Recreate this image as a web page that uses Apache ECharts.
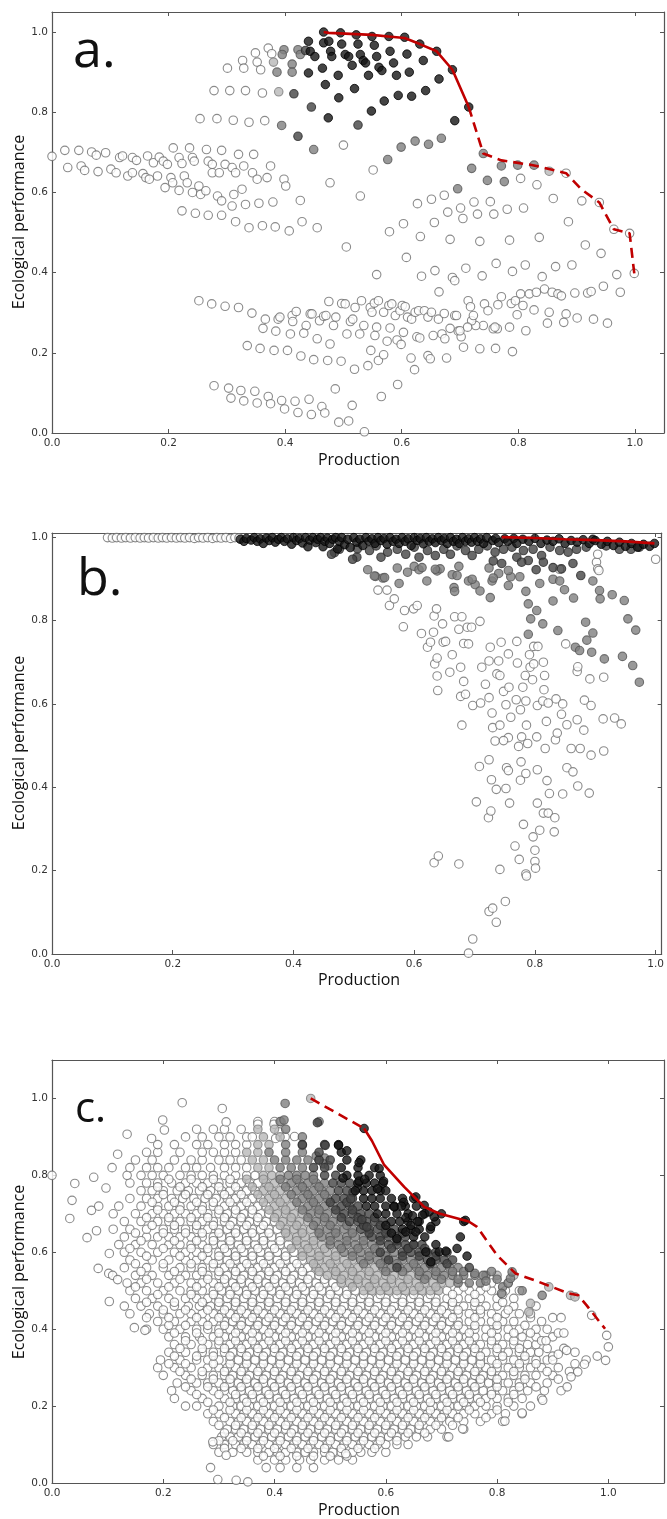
<!DOCTYPE html>
<html><head><meta charset="utf-8">
<script src="https://cdn.jsdelivr.net/npm/echarts@6/dist/echarts.min.js"></script>
<style>html,body{margin:0;padding:0;background:#fff}#c{width:667px;height:1519px}</style>
</head><body><div id="c"></div>
<script>
// ---------- tick labels ----------
const tickValues = [0, 0.2, 0.4, 0.6, 0.8, 1.0];
const tickLabels = ['0.0', '0.2', '0.4', '0.6', '0.8', '1.0'];
const panelLetters = ['a.', 'b.', 'c.'];
const xTitle = 'Production';
const yTitle = 'Ecological performance';

// ---------- panel a ----------
const aOpen = [
[0.0,0.69],[0.022,0.705],[0.046,0.705],[0.068,0.701],[0.076,0.693],[0.092,0.699],[0.116,0.687],[0.121,0.691],[0.138,0.687],[0.145,0.68],[0.164,0.691],[0.174,0.674],[0.184,0.688],[0.191,0.678],[0.198,0.67],[0.208,0.711],[0.218,0.687],[0.223,0.672],[0.236,0.711],[0.241,0.687],[0.244,0.678],[0.265,0.707],[0.268,0.678],[0.275,0.67],[0.291,0.705],[0.297,0.67],[0.32,0.695],[0.346,0.695],[0.375,0.666],
[0.027,0.662],[0.05,0.666],[0.056,0.655],[0.079,0.652],[0.101,0.658],[0.11,0.649],[0.13,0.641],[0.138,0.649],[0.156,0.647],[0.161,0.637],[0.167,0.633],[0.181,0.641],[0.194,0.612],[0.204,0.637],[0.207,0.624],[0.218,0.605],[0.227,0.641],[0.232,0.624],[0.241,0.6],[0.252,0.616],[0.255,0.595],[0.264,0.604],[0.275,0.649],[0.284,0.591],[0.287,0.649],[0.291,0.579],[0.309,0.662],[0.312,0.595],[0.315,0.649],[0.326,0.608],[0.329,0.666],[0.344,0.649],[0.352,0.633],[0.369,0.637],[0.398,0.633],[0.401,0.616],
[0.223,0.554],[0.246,0.548],[0.268,0.543],[0.291,0.543],[0.315,0.527],[0.309,0.566],[0.332,0.57],[0.355,0.573],[0.379,0.576],[0.338,0.512],[0.361,0.517],[0.383,0.514],[0.407,0.504],[0.426,0.58],[0.429,0.527],[0.455,0.512],[0.477,0.624],
[0.278,0.854],[0.305,0.854],[0.332,0.854],[0.361,0.848],[0.254,0.784],[0.283,0.784],[0.311,0.78],[0.338,0.775],[0.365,0.779],
[0.301,0.91],[0.327,0.929],[0.329,0.91],[0.349,0.948],[0.352,0.925],[0.358,0.906],[0.371,0.96],[0.377,0.946],
[0.5,0.718],[0.551,0.656],[0.529,0.591],[0.804,0.635],[0.832,0.619],[0.86,0.585],[0.909,0.579],[0.939,0.575],[0.964,0.508],[0.991,0.498],[0.999,0.398],[0.673,0.593],[0.651,0.583],[0.627,0.572],[0.724,0.576],[0.752,0.577],[0.679,0.551],[0.701,0.561],[0.705,0.535],[0.73,0.546],[0.758,0.546],[0.781,0.558],[0.809,0.561],[0.579,0.502],[0.603,0.522],[0.656,0.525],[0.632,0.49],[0.683,0.483],[0.734,0.478],[0.785,0.481],[0.836,0.488],[0.886,0.527],[0.915,0.469],[0.942,0.448],[0.505,0.464],[0.608,0.438],[0.557,0.395],[0.634,0.391],[0.657,0.405],[0.687,0.388],[0.691,0.38],[0.71,0.411],[0.738,0.392],[0.762,0.423],[0.79,0.403],[0.812,0.419],[0.841,0.39],[0.864,0.415],[0.892,0.419],[0.969,0.395],[0.946,0.366],[0.975,0.351],[0.664,0.352],[0.897,0.349],[0.919,0.349],[0.925,0.353],[0.882,0.648],
[0.714,0.33],[0.718,0.315],[0.742,0.322],[0.748,0.305],[0.771,0.34],[0.765,0.32],[0.788,0.323],[0.795,0.33],[0.804,0.347],[0.808,0.318],[0.819,0.347],[0.831,0.351],[0.845,0.359],[0.858,0.351],[0.868,0.347],[0.874,0.342],[0.798,0.295],[0.827,0.307],[0.853,0.301],[0.882,0.297],[0.901,0.287],[0.929,0.284],[0.953,0.274],[0.85,0.274],[0.878,0.276],[0.813,0.255],[0.785,0.264],[0.764,0.26],[0.757,0.26],[0.74,0.268],[0.727,0.268],[0.72,0.28],[0.706,0.214],[0.734,0.21],[0.761,0.211],[0.79,0.203],[0.723,0.293],[0.697,0.254],[0.702,0.24],[0.691,0.293],
[0.252,0.33],[0.274,0.322],[0.297,0.316],[0.32,0.313],[0.343,0.299],[0.366,0.284],[0.388,0.284],[0.391,0.289],[0.412,0.293],[0.419,0.303],[0.413,0.278],[0.436,0.268],[0.443,0.297],[0.446,0.297],[0.459,0.28],[0.466,0.291],[0.47,0.293],[0.475,0.328],[0.483,0.268],[0.487,0.289],[0.497,0.323],[0.503,0.322],[0.512,0.278],[0.516,0.284],[0.52,0.313],[0.531,0.33],[0.535,0.268],[0.546,0.313],[0.549,0.301],[0.553,0.324],[0.56,0.33],[0.557,0.264],[0.569,0.301],[0.578,0.318],[0.583,0.322],[0.58,0.262],[0.589,0.293],[0.597,0.305],[0.601,0.318],[0.606,0.315],[0.61,0.289],[0.617,0.284],[0.623,0.301],[0.629,0.305],[0.639,0.305],[0.645,0.289],[0.651,0.301],[0.663,0.284],[0.673,0.298],[0.694,0.293],[0.76,0.264],
[0.362,0.261],[0.384,0.254],[0.409,0.247],[0.432,0.249],[0.455,0.235],[0.477,0.222],[0.506,0.247],[0.528,0.247],[0.554,0.243],[0.575,0.229],[0.592,0.232],[0.599,0.221],[0.603,0.251],[0.626,0.24],[0.631,0.237],[0.654,0.243],[0.669,0.247],[0.674,0.235],[0.683,0.261],[0.7,0.255],[0.713,0.264],
[0.335,0.218],[0.357,0.211],[0.381,0.206],[0.404,0.206],[0.427,0.192],[0.449,0.183],[0.473,0.181],[0.496,0.179],[0.519,0.159],[0.542,0.168],[0.56,0.181],[0.569,0.195],[0.547,0.206],[0.616,0.187],[0.622,0.158],[0.645,0.193],[0.649,0.185],[0.677,0.187],
[0.278,0.118],[0.303,0.112],[0.307,0.087],[0.324,0.106],[0.329,0.08],[0.348,0.104],[0.352,0.075],[0.371,0.091],[0.375,0.073],[0.394,0.081],[0.399,0.06],[0.417,0.079],[0.422,0.051],[0.441,0.084],[0.445,0.046],[0.463,0.066],[0.468,0.05],[0.486,0.11],[0.492,0.027],[0.509,0.03],[0.515,0.069],[0.536,0.003],[0.565,0.091],[0.593,0.121]
];
const aLight = [[0.38,0.925],[0.389,0.851],[0.853,0.653]];
const aGray = [[0.386,0.9],[0.398,0.956],[0.395,0.944],[0.412,0.92],[0.412,0.9],[0.422,0.956],[0.426,0.944],[0.394,0.767],[0.449,0.707],[0.599,0.713],[0.623,0.728],[0.646,0.72],[0.668,0.735],[0.576,0.682],[0.74,0.697],[0.72,0.66],[0.747,0.63],[0.771,0.666],[0.776,0.627],[0.799,0.668],[0.827,0.668],[0.696,0.609]];
const aDark = [[0.415,0.846],[0.422,0.74],[0.445,0.813],[0.525,0.768],[0.435,0.954]];
const aBlack = [[0.44,0.977],[0.443,0.952],[0.451,0.939],[0.44,0.898],[0.466,0.973],[0.466,1.0],[0.464,0.91],[0.469,0.869],[0.478,0.952],[0.48,0.939],[0.491,0.892],[0.492,0.836],[0.495,0.998],[0.522,0.993],[0.549,0.989],[0.578,0.989],[0.605,0.987],[0.631,0.97],[0.66,0.952],[0.687,0.906],[0.715,0.813],[0.475,0.977],[0.497,0.97],[0.525,0.97],[0.553,0.967],[0.503,0.944],[0.509,0.939],[0.529,0.944],[0.534,0.929],[0.557,0.939],[0.58,0.952],[0.609,0.945],[0.637,0.929],[0.515,0.917],[0.538,0.923],[0.561,0.912],[0.566,0.904],[0.586,0.923],[0.543,0.892],[0.591,0.892],[0.613,0.9],[0.664,0.883],[0.519,0.859],[0.57,0.828],[0.594,0.842],[0.617,0.84],[0.641,0.854],[0.548,0.803],[0.474,0.786],[0.691,0.779]];
const aFrontSolid = [[0.466,1.0],[0.475,0.998],[0.549,0.993],[0.577,0.989],[0.605,0.985],[0.631,0.97],[0.66,0.952],[0.687,0.906],[0.715,0.813]];
const aFrontDash = [[0.715,0.813],[0.74,0.697],[0.771,0.68],[0.825,0.668],[0.882,0.648],[0.908,0.608],[0.939,0.575],[0.964,0.508],[0.991,0.498],[0.999,0.398]];

// ---------- panel b ----------
const bOpenTop = [[0.092,0.999],[0.100,0.998],[0.107,0.999],[0.115,0.998],[0.122,0.999],[0.13,0.998],[0.138,0.999],[0.146,0.998],[0.153,0.999],[0.16,0.998],[0.168,0.999],[0.176,0.998],[0.183,0.999],[0.19,0.998],[0.198,0.999],[0.206,0.998],[0.213,0.999],[0.22,0.998],[0.228,0.999],[0.236,0.997],[0.243,0.999],[0.25,0.998],[0.258,0.999],[0.266,0.997],[0.273,0.999],[0.28,0.998],[0.288,0.999],[0.296,0.997],[0.303,0.999],[0.31,0.998]];
const bOpen = [
[0.582,0.785],[0.540,0.873],[0.555,0.873],[0.559,0.836],[0.567,0.852],[0.584,0.824],[0.599,0.828],[0.605,0.836],[0.612,0.769],[0.622,0.736],[0.627,0.748],[0.632,0.772],[0.633,0.811],[0.637,0.828],[0.647,0.792],[0.648,0.748],[0.652,0.750],[0.634,0.696],[0.638,0.710],[0.638,0.667],[0.639,0.632],[0.663,0.718],[0.659,0.676],[0.667,0.809],[0.674,0.779],[0.677,0.688],[0.679,0.809],[0.682,0.654],[0.677,0.618],[0.685,0.623],[0.679,0.549],[0.688,0.784],[0.682,0.745],[0.690,0.744],[0.695,0.784],[0.697,0.596],[0.709,0.798],[0.710,0.602],[0.712,0.688],[0.718,0.647],[0.724,0.615],[0.726,0.736],[0.724,0.703],[0.729,0.578],[0.730,0.543],[0.737,0.672],[0.742,0.668],[0.740,0.703],[0.742,0.549],[0.744,0.748],[0.748,0.630],[0.752,0.598],[0.756,0.720],[0.760,0.568],[0.756,0.519],[0.734,0.511],[0.748,0.512],[0.757,0.640],[0.770,0.750],[0.771,0.698],[0.769,0.610],[0.773,0.498],[0.776,0.586],[0.778,0.521],[0.784,0.668],[0.785,0.607],[0.786,0.549],[0.788,0.505],[0.780,0.640],[0.791,0.718],[0.792,0.688],[0.796,0.658],[0.798,0.696],[0.803,0.521],[0.804,0.596],[0.813,0.607],[0.814,0.700],[0.815,0.634],[0.816,0.668],[0.817,0.493],[0.819,0.558],[0.822,0.602],[0.798,0.738],[0.805,0.738],[0.835,0.612],[0.846,0.600],[0.834,0.514],[0.837,0.530],[0.844,0.575],[0.853,0.550],[0.851,0.744],[0.860,0.493],[0.853,0.447],[0.863,0.437],[0.870,0.562],[0.870,0.678],[0.871,0.689],[0.875,0.493],[0.881,0.537],[0.882,0.609],[0.891,0.660],[0.893,0.596],[0.893,0.477],[0.913,0.564],[0.914,0.487],[0.914,0.664],[0.932,0.566],[0.943,0.552],
[0.724,0.466],[0.708,0.450],[0.728,0.418],[0.736,0.395],[0.753,0.447],[0.756,0.440],[0.752,0.397],[0.777,0.461],[0.776,0.417],[0.785,0.433],[0.804,0.442],[0.758,0.362],[0.703,0.365],[0.723,0.327],[0.727,0.343],[0.781,0.311],[0.797,0.281],[0.808,0.297],[0.804,0.362],[0.820,0.416],[0.824,0.385],[0.814,0.338],[0.822,0.338],[0.833,0.327],[0.832,0.293],[0.846,0.384],[0.871,0.403],[0.890,0.386],[0.767,0.259],[0.774,0.227],[0.800,0.249],[0.800,0.222],[0.801,0.206],[0.785,0.192],[0.786,0.187],[0.742,0.203],[0.633,0.219],[0.640,0.235],[0.674,0.216],[0.751,0.126],[0.724,0.102],[0.730,0.110],[0.736,0.076],[0.697,0.036],[0.690,0.002],
[0.902,0.94],[0.904,0.924],[0.841,0.923],[1.0,0.947],[0.904,0.959],[0.906,0.92]
];
const bMid = [[0.523,0.922],[0.536,0.906],[0.548,0.902],[0.572,0.926],[0.575,0.889],[0.589,0.916],[0.600,0.930],[0.608,0.922],[0.621,0.895],[0.638,0.919],[0.643,0.924],[0.663,0.910],[0.666,0.879],[0.667,0.870],[0.674,0.930],[0.690,0.895],[0.701,0.886],[0.709,0.871],[0.724,0.926],[0.726,0.855],[0.729,0.895],[0.740,0.913],[0.756,0.884],[0.760,0.905],[0.775,0.905],[0.785,0.870],[0.789,0.840],[0.793,0.804],[0.803,0.824],[0.813,0.792],[0.789,0.767],[0.808,0.889],[0.830,0.899],[0.841,0.895],[0.838,0.776],[0.830,0.847],[0.849,0.874],[0.864,0.854],[0.867,0.736],[0.874,0.728],[0.884,0.796],[0.886,0.753],[0.894,0.724],[0.896,0.770],[0.896,0.895],[0.907,0.872],[0.908,0.852],[0.915,0.708],[0.928,0.862],[0.945,0.714],[0.948,0.848],[0.954,0.804],[0.962,0.692],[0.967,0.777],[0.973,0.652],[0.534,0.907],[0.551,0.903],[0.613,0.927],[0.635,0.923],[0.671,0.908],[0.696,0.899],[0.731,0.902],[0.756,0.920]];
const bDark = [[0.506,0.972],[0.505,0.952],[0.526,0.968],[0.545,0.952],[0.537,0.979],[0.556,0.964],[0.572,0.971],[0.586,0.959],[0.6,0.976],[0.608,0.952],[0.622,0.968],[0.635,0.956],[0.649,0.971],[0.66,0.959],[0.671,0.979],[0.685,0.968],[0.696,0.956],[0.707,0.971],[0.721,0.979],[0.734,0.964],[0.748,0.971],[0.762,0.976],[0.77,0.952],[0.781,0.968],[0.797,0.971],[0.811,0.956],[0.825,0.976],[0.841,0.968],[0.855,0.964],[0.869,0.971],[0.885,0.976],[0.918,0.979],[0.94,0.971],[0.959,0.971],[0.973,0.976],[0.731,0.943],[0.789,0.944],[0.863,0.937],[0.876,0.908],[0.802,0.922],[0.814,0.940],[0.830,0.927],[0.844,0.924],[0.778,0.940],[0.745,0.937],[0.468,0.963],[0.463,0.959],[0.498,0.947],[0.476,0.971]];
const bBlack = [[0.312,0.995],[0.318,0.99],[0.322,0.997],[0.33,0.993],[0.335,0.999],[0.34,0.99],[0.345,0.996],[0.35,0.985],[0.355,0.998],[0.36,0.992],[0.365,0.999],[0.37,0.988],[0.375,0.995],[0.38,0.999],[0.385,0.99],[0.39,0.996],[0.397,0.983],[0.40,0.999],[0.405,0.992],[0.41,0.997],[0.415,0.986],[0.42,0.999],[0.424,0.977],[0.427,0.993],[0.432,0.999],[0.437,0.987],[0.44,0.995],[0.445,0.999],[0.449,0.977],[0.452,0.99],[0.456,0.998],[0.46,0.985],[0.465,0.995],[0.47,0.999],[0.473,0.972],[0.476,0.99],[0.48,0.999],[0.485,0.982],[0.49,0.995],[0.494,0.975],[0.50,0.999],[0.505,0.988],[0.51,0.995],[0.515,0.98],[0.52,0.999],[0.525,0.99],[0.53,0.996],[0.535,0.985],[0.54,0.999],[0.545,0.992],[0.55,0.997],[0.555,0.983],[0.56,0.999],[0.565,0.99],[0.57,0.995],[0.575,0.985],[0.58,0.999],[0.585,0.99],[0.59,0.996],[0.595,0.98],[0.60,0.999],[0.605,0.992],[0.61,0.997],[0.615,0.984],[0.62,0.999],[0.625,0.99],[0.63,0.996],[0.635,0.987],[0.64,0.999],[0.645,0.992],[0.65,0.997],[0.655,0.985],[0.66,0.999],[0.665,0.99],[0.67,0.995],[0.675,0.985],[0.68,0.999],[0.685,0.99],[0.69,0.996],[0.695,0.988],[0.70,0.999],[0.705,0.99],[0.71,0.996],[0.715,0.985],[0.72,0.999],[0.73,0.992],[0.735,0.997],[0.74,0.987],[0.75,0.996],[0.755,0.99],[0.765,0.997],[0.77,0.985],[0.78,0.995],[0.79,0.99],[0.80,0.997],[0.81,0.985],[0.82,0.993],[0.83,0.99],[0.84,0.996],[0.85,0.985],[0.86,0.992],[0.87,0.988],[0.88,0.994],[0.89,0.985],[0.896,0.995],[0.90,0.992],[0.91,0.983],[0.92,0.99],[0.93,0.98],[0.94,0.988],[0.95,0.978],[0.96,0.985],[0.97,0.976],[0.98,0.983],[0.99,0.978],[0.998,0.985]];
const bFront = [[0.745,1.0],[0.80,0.998],[0.85,0.995],[0.90,0.993],[0.95,0.99],[0.998,0.985]];

// ---------- panel c (rows: [y, [x values]]) ----------
const cOpenRows = [
[0.04,[.385,.41,.44,.47]],
[0.06,[.37,.40,.42,.445,.465,.49,.515,.54]],
[0.08,[.30,.325,.35,.37,.39,.405,.42,.44,.455,.47,.49,.505,.52,.54,.555,.575,.60]],
[0.10,[.29,.31,.33,.345,.36,.375,.39,.405,.42,.435,.45,.465,.48,.495,.51,.525,.54,.555,.57,.585,.60,.62,.64]],
[0.12,[.305,.32,.335,.35,.365,.38,.395,.41,.425,.44,.455,.47,.485,.50,.515,.53,.545,.56,.575,.59,.605,.62,.635,.655,.675,.71]],
[0.14,[.315,.33,.345,.36,.375,.39,.405,.42,.435,.45,.465,.48,.495,.51,.525,.54,.555,.57,.585,.60,.615,.63,.645,.66,.68,.70,.74]],
[0.16,[.29,.32,.335,.35,.365,.38,.395,.41,.425,.44,.455,.47,.485,.50,.515,.53,.545,.56,.575,.59,.605,.62,.635,.65,.665,.68,.695,.715,.74,.77,.81]],
[0.18,[.28,.30,.33,.345,.36,.375,.39,.405,.42,.435,.45,.465,.48,.495,.51,.525,.54,.555,.57,.585,.60,.615,.63,.645,.66,.675,.69,.705,.72,.74,.76,.79,.815,.845]],
[0.20,[.24,.26,.30,.325,.34,.355,.37,.385,.40,.415,.43,.445,.46,.475,.49,.505,.52,.535,.55,.565,.58,.595,.61,.625,.64,.655,.67,.685,.70,.715,.73,.745,.76,.78,.80,.83,.86]],
[0.22,[.22,.27,.31,.33,.345,.36,.375,.39,.405,.42,.435,.45,.465,.48,.495,.51,.525,.54,.555,.57,.585,.60,.615,.63,.645,.66,.675,.69,.705,.72,.735,.75,.765,.78,.80,.82,.845,.88]],
[0.24,[.215,.25,.29,.31,.325,.34,.355,.37,.385,.40,.415,.43,.445,.46,.475,.49,.505,.52,.535,.55,.565,.58,.595,.61,.625,.64,.655,.67,.685,.70,.715,.73,.745,.76,.775,.79,.81,.83,.855,.885,.915]],
[0.26,[.225,.26,.28,.30,.32,.335,.35,.365,.38,.395,.41,.425,.44,.455,.47,.485,.50,.515,.53,.545,.56,.575,.59,.605,.62,.635,.65,.665,.68,.695,.71,.725,.74,.755,.77,.785,.80,.82,.84,.86,.89]],
[0.28,[.20,.24,.27,.29,.31,.325,.34,.355,.37,.385,.40,.415,.43,.445,.46,.475,.49,.505,.52,.535,.55,.565,.58,.595,.61,.625,.64,.655,.67,.685,.70,.715,.73,.745,.76,.775,.79,.81,.83,.85,.87,.90]],
[0.30,[.19,.22,.25,.28,.30,.315,.33,.345,.36,.375,.39,.405,.42,.435,.45,.465,.48,.495,.51,.525,.54,.555,.57,.585,.60,.615,.63,.645,.66,.675,.69,.705,.72,.735,.75,.765,.78,.80,.82,.84,.86,.88,.91]],
[0.32,[.195,.23,.26,.28,.30,.32,.335,.35,.365,.38,.395,.41,.425,.44,.455,.47,.485,.50,.515,.53,.545,.56,.575,.59,.605,.62,.635,.65,.665,.68,.695,.71,.725,.74,.755,.77,.79,.81,.83,.85,.87,.89,.96]],
[0.34,[.21,.24,.27,.29,.31,.325,.34,.355,.37,.385,.40,.415,.43,.445,.46,.475,.49,.505,.52,.535,.55,.565,.58,.595,.61,.625,.64,.655,.67,.685,.70,.715,.73,.745,.76,.78,.80,.82,.84,.86,.875]],
[0.36,[.22,.25,.28,.30,.32,.335,.35,.365,.38,.395,.41,.425,.44,.455,.47,.485,.50,.515,.53,.545,.56,.575,.59,.605,.62,.635,.65,.665,.68,.695,.71,.725,.74,.755,.77,.79,.81,.83,.855,.87]],
[0.38,[.21,.24,.265,.29,.31,.325,.34,.355,.37,.385,.40,.415,.43,.445,.46,.475,.49,.505,.52,.535,.55,.565,.58,.595,.61,.625,.64,.655,.67,.685,.70,.715,.73,.745,.76,.78,.80,.82,.845,.87,.90]],
[0.40,[.17,.20,.23,.26,.28,.30,.32,.335,.35,.365,.38,.395,.41,.425,.44,.455,.47,.485,.50,.515,.53,.545,.56,.575,.59,.605,.62,.635,.65,.665,.68,.695,.71,.725,.74,.76,.78,.80,.82,.84,.87]],
[0.42,[.19,.22,.25,.27,.29,.31,.325,.34,.355,.37,.385,.40,.415,.43,.445,.46,.475,.49,.505,.52,.535,.55,.565,.58,.595,.61,.625,.64,.655,.67,.685,.70,.715,.73,.75,.77,.79,.81,.83,.88]],
[0.44,[.14,.175,.20,.23,.25,.27,.29,.305,.32,.335,.35,.365,.38,.395,.41,.425,.44,.455,.47,.485,.50,.515,.53,.545,.56,.575,.59,.605,.62,.635,.65,.665,.68,.695,.71,.73,.75,.77,.79,.815,.84]],
[0.46,[.13,.16,.19,.22,.245,.265,.285,.30,.315,.33,.345,.36,.375,.39,.405,.42,.435,.45,.465,.48,.495,.51,.525,.54,.555,.57,.585,.60,.615,.63,.645,.66,.675,.69,.705,.72,.74,.76,.78,.80,.83,.87]],
[0.48,[.15,.18,.21,.24,.26,.28,.30,.315,.33,.345,.36,.375,.39,.405,.42,.435,.45,.465,.48,.495,.51,.525,.54,.555,.57,.585,.60,.615,.63,.645,.66,.675,.69,.71,.73,.75,.77,.80,.83]],
[0.50,[.14,.17,.20,.23,.25,.27,.29,.305,.32,.335,.35,.365,.38,.395,.41,.425,.44,.455,.47,.485,.50,.515,.53,.545,.71,.73,.75,.77,.79,.815,.84]],
[0.52,[.135,.16,.19,.22,.25,.27,.29,.31,.325,.34,.355,.37,.385,.40,.415,.43,.445,.46,.475,.49,.505,.79,.82]],
[0.54,[.15,.18,.21,.24,.26,.28,.30,.315,.33,.345,.36,.375,.39,.405,.42,.435,.45,.465,.48]],
[0.56,[.13,.17,.20,.23,.25,.27,.29,.31,.325,.34,.355,.37,.385,.40,.415,.43,.445,.46]],
[0.58,[.14,.18,.21,.24,.26,.28,.30,.315,.33,.345,.36,.375,.39,.405,.42,.435,.45]],
[0.60,[.13,.16,.19,.22,.24,.26,.28,.30,.315,.33,.345,.36,.375,.39,.405,.42,.435]],
[0.62,[.12,.15,.18,.21,.23,.25,.27,.29,.305,.32,.335,.35,.365,.38,.395,.41,.425]],
[0.64,[.13,.17,.19,.21,.23,.25,.27,.29,.305,.32,.335,.35,.365,.38,.395,.41]],
[0.66,[.11,.14,.17,.20,.22,.24,.26,.28,.30,.315,.33,.345,.36,.375,.39,.405]],
[0.68,[.13,.16,.19,.21,.23,.25,.27,.29,.31,.325,.34,.355,.37,.385,.40]],
[0.70,[.11,.15,.18,.20,.22,.24,.26,.28,.30,.315,.33,.345,.36,.375,.39]],
[0.72,[.12,.16,.19,.21,.23,.25,.27,.29,.31,.325,.34,.355,.37,.385]],
[0.74,[.14,.17,.19,.215,.235,.255,.275,.295,.315,.33,.345,.36,.375]],
[0.76,[.16,.18,.20,.225,.245,.265,.285,.305,.32,.335,.35,.365]],
[0.78,[.14,.17,.19,.215,.24,.26,.28,.30,.32,.34,.355,.37]],
[0.80,[.135,.16,.18,.20,.23,.25,.27,.29,.31,.33,.35,.365]],
[0.82,[.14,.17,.19,.21,.24,.26,.285,.31,.33,.35]],
[0.84,[.15,.18,.22,.25,.27,.30,.32,.34]],
[0.86,[.17,.19,.23,.27,.29,.31,.33]],
[0.88,[.19,.22,.26,.28,.31,.33,.35]],
[0.90,[.24,.27,.30,.32,.35,.36]],
[0.92,[.26,.29,.31,.34]],
[0.94,[.37,.40]],
[0.07,[.38,.41,.44,.47,.50,.53]],
[0.09,[.31,.34,.37,.40,.43,.46,.49,.52,.55,.58]],
[0.11,[.30,.325,.35,.38,.41,.44,.47,.50,.53,.56,.59,.62]],
[0.13,[.31,.34,.37,.40,.43,.46,.49,.52,.55,.58,.61,.64,.67]],
[0.15,[.30,.33,.36,.39,.42,.45,.48,.51,.54,.57,.60,.63,.66,.69,.72]],
[0.17,[.31,.34,.37,.40,.43,.46,.49,.52,.55,.58,.61,.64,.67,.70,.73,.78]],
[0.19,[.29,.32,.35,.38,.41,.44,.47,.50,.53,.56,.59,.62,.65,.68,.71,.75,.80]],
[0.21,[.28,.32,.35,.38,.41,.44,.47,.50,.53,.56,.59,.62,.65,.68,.71,.74,.77,.82]],
[0.23,[.26,.30,.33,.36,.39,.42,.45,.48,.51,.54,.57,.60,.63,.66,.69,.72,.75,.79,.83]],
[0.25,[.24,.28,.31,.34,.37,.40,.43,.46,.49,.52,.55,.58,.61,.64,.67,.70,.73,.76,.80,.84,.87]],
[0.27,[.25,.29,.32,.35,.38,.41,.44,.47,.50,.53,.56,.59,.62,.65,.68,.71,.74,.77,.80,.85,.91]],
[0.29,[.23,.27,.31,.34,.37,.40,.43,.46,.49,.52,.55,.58,.61,.64,.67,.70,.73,.76,.79,.83,.89,.93]],
[0.31,[.21,.24,.29,.32,.35,.38,.41,.44,.47,.50,.53,.56,.59,.62,.65,.68,.71,.74,.77,.80,.84,.87,.94]],
[0.33,[.22,.26,.29,.32,.35,.38,.41,.44,.47,.50,.53,.56,.59,.62,.65,.68,.71,.74,.77,.81,.85,.90,.98]],
[0.35,[.23,.27,.31,.34,.37,.40,.43,.46,.49,.52,.55,.58,.61,.64,.67,.70,.73,.76,.80,.84,.89,.92]],
[0.37,[.24,.27,.30,.33,.36,.39,.42,.45,.48,.51,.54,.57,.60,.63,.66,.69,.72,.75,.79,.83,.88]],
[0.39,[.22,.26,.30,.33,.36,.39,.42,.45,.48,.51,.54,.57,.60,.63,.66,.69,.72,.75,.79,.83,.86,.91]],
[0.41,[.21,.24,.28,.31,.34,.37,.40,.43,.46,.49,.52,.55,.58,.61,.64,.67,.70,.73,.76,.80,.85]],
[0.43,[.17,.21,.26,.30,.33,.36,.39,.42,.45,.48,.51,.54,.57,.60,.63,.66,.69,.72,.76,.80,.86]],
[0.45,[.20,.24,.28,.31,.34,.37,.40,.43,.46,.49,.52,.55,.58,.61,.64,.67,.70,.73,.77,.82]],
[0.47,[.17,.22,.27,.30,.33,.36,.39,.42,.45,.48,.51,.54,.57,.60,.63,.66,.69,.72,.76,.81]],
[0.49,[.19,.25,.29,.32,.35,.38,.41,.44,.47,.50,.53,.56,.59,.62,.65,.68,.72,.76,.81]],
[0.51,[.15,.21,.26,.30,.33,.36,.39,.42,.45,.48,.51,.74,.78]],
[0.53,[.17,.23,.28,.31,.34,.37,.40,.43,.46,.49]],
[0.55,[.16,.22,.27,.30,.33,.36,.39,.42,.45]],
[0.57,[.15,.20,.25,.29,.32,.35,.38,.41,.44]],
[0.59,[.17,.23,.27,.30,.33,.36,.39,.42]],
[0.61,[.14,.20,.25,.28,.31,.34,.37,.40]],
[0.63,[.16,.22,.26,.29,.32,.35,.38,.41]],
[0.65,[.15,.20,.24,.27,.30,.33,.36,.39]],
[0.67,[.18,.22,.26,.29,.32,.35,.38]],
[0.69,[.17,.21,.25,.28,.31,.34,.37]],
[0.71,[.19,.23,.27,.30,.33,.36]],
[0.73,[.18,.22,.26,.29,.32,.35]],
[0.75,[.20,.24,.28,.31,.34]],
[0.77,[.19,.23,.27,.30,.33]],
[0.79,[.21,.25,.29,.32]]
];
const cLightRows = [
[0.50,[.56,.575,.59,.605,.62,.635,.65,.665,.68,.695]],
[0.52,[.52,.535,.55,.565,.58,.595,.61,.625,.64,.655,.67,.685,.70,.715]],
[0.54,[.495,.51,.525,.54,.555,.57,.585,.60,.615,.63,.645,.80,.83]],
[0.56,[.475,.49,.505,.52,.535,.55,.565,.58]],
[0.58,[.465,.48,.495,.51,.525,.54]],
[0.60,[.45,.465,.48,.495,.51]],
[0.62,[.44,.455,.47,.485]],
[0.64,[.425,.44,.455,.47]],
[0.66,[.42,.435,.45,.465]],
[0.68,[.415,.43,.445,.46]],
[0.70,[.405,.42,.435,.45]],
[0.72,[.40,.415,.43,.445]],
[0.74,[.39,.405,.42,.435]],
[0.76,[.38,.395,.41,.425]],
[0.78,[.385,.40,.415]],
[0.80,[.38,.395,.41]],
[0.82,[.37,.39]],
[0.84,[.36,.38]],
[0.86,[.35,.37]],
[0.88,[.37,.39]],
[0.90,[.38,.41]],
[0.92,[.37,.40]],
[0.51,[.54,.57,.60,.63,.66,.69]],
[0.53,[.52,.55,.58,.61,.64]],
[0.55,[.48,.51,.54,.57]],
[0.57,[.47,.50,.53]],
[0.59,[.45,.48,.51]],
[0.61,[.43,.46,.49]],
[0.63,[.44,.47]],
[0.65,[.42,.45]],
[0.67,[.41,.44]],
[0.69,[.40,.43]],
[0.71,[.39,.42]],
[0.73,[.38,.41]],
[0.75,[.37,.40]],
[0.77,[.36,.39]],
[0.79,[.35,.38]]
];
const cMidRows = [
[0.52,[.73,.75,.77]],
[0.54,[.66,.675,.69,.705,.72,.74,.76,.78]],
[0.56,[.595,.61,.625,.64,.655,.67,.685,.70,.715,.73]],
[0.58,[.555,.57,.585,.60,.615,.63,.645,.66]],
[0.60,[.525,.54,.555,.57,.585,.60,.615]],
[0.62,[.50,.515,.53,.545,.56,.575,.59]],
[0.64,[.485,.50,.515,.53,.545,.56]],
[0.66,[.48,.495,.51,.525,.54]],
[0.68,[.475,.49,.505,.52]],
[0.70,[.465,.48,.495,.51]],
[0.72,[.46,.475,.49,.505]],
[0.74,[.45,.465,.48,.495]],
[0.76,[.44,.455,.47,.485,.50]],
[0.78,[.43,.445,.46,.475,.49]],
[0.80,[.425,.44,.455,.47]],
[0.82,[.41,.43,.45]],
[0.84,[.40,.42,.44,.46]],
[0.86,[.39,.42,.45]],
[0.88,[.42]],
[0.90,[.45]],
[0.92,[.42]],
[0.94,[.41,.48]],
[0.53,[.67,.70,.73]],
[0.55,[.60,.63,.66,.69,.72]],
[0.57,[.56,.59,.62,.65]],
[0.59,[.54,.57,.60]],
[0.61,[.52,.55,.58]],
[0.63,[.50,.53,.56]],
[0.65,[.48,.51,.54]],
[0.67,[.47,.50,.53]],
[0.69,[.46,.49]],
[0.71,[.45,.48]],
[0.73,[.44,.47]],
[0.75,[.43,.46,.49]],
[0.77,[.42,.45,.48]],
[0.79,[.41,.44,.47]]
];
const cDarkRows = [
[0.56,[.75]],
[0.58,[.675,.69,.705,.72]],
[0.60,[.63,.645,.66,.675,.69,.71]],
[0.62,[.605,.62,.635,.65,.665]],
[0.64,[.575,.59,.605,.62,.635]],
[0.66,[.555,.57,.585,.60,.615]],
[0.68,[.535,.55,.565,.58,.595]],
[0.70,[.525,.54,.555,.57]],
[0.72,[.52,.535,.55]],
[0.74,[.51,.525,.54]],
[0.76,[.515,.53]],
[0.78,[.505,.52,.535]],
[0.80,[.49,.51]],
[0.82,[.47,.49]],
[0.84,[.48,.50]],
[0.86,[.48]],
[0.88,[.45,.49]],
[0.57,[.68,.71]],
[0.59,[.63,.66,.69]],
[0.61,[.61,.64,.67]],
[0.63,[.59,.62]],
[0.65,[.57,.60,.63]],
[0.67,[.56,.59]],
[0.69,[.52,.55,.58]],
[0.71,[.51,.54]],
[0.73,[.50,.53]]
];
const cBlackRows = [
[0.62,[.69]],
[0.64,[.65,.67]],
[0.66,[.63,.645,.66,.68]],
[0.68,[.61,.625,.64,.66,.69,.74]],
[0.70,[.585,.60,.62,.64,.67,.70]],
[0.72,[.565,.58,.60,.615,.635,.655]],
[0.74,[.56,.575,.59,.61,.63,.65]],
[0.76,[.545,.56,.575,.59]],
[0.78,[.55,.565,.58,.595]],
[0.80,[.53,.55,.57,.59]],
[0.82,[.52,.55,.58]],
[0.84,[.53,.555]],
[0.86,[.52]],
[0.88,[.515]]
];
const cOpenPts = [[0.032,0.688],[0.036,0.735],[0.041,0.779],[0.063,0.638],[0.071,0.709],[0.075,0.795],[0.08,0.656],[0.083,0.558],[0.084,0.72],[0.097,0.767],[0.103,0.597],[0.102,0.545],[0.108,0.82],[0.109,0.54],[0.103,0.472],[0.118,0.855],[0.118,0.529],[0.135,0.907],[0.148,0.404],[0.167,0.397],[0.179,0.896],[0.199,0.944],[0.202,0.918],[0.234,0.989],[0.306,0.974],[0.313,0.939],[0.0,0.80],[0.285,0.04],[0.298,0.009],[0.331,0.007],[0.352,0.003],[0.289,0.107],[0.313,0.072],[0.97,0.436],[0.997,0.384],[1.0,0.354],[0.995,0.319],[0.86,0.44],[0.9,0.43],[0.915,0.43],[0.92,0.39],[0.89,0.40],[0.888,0.37],[0.90,0.32],[0.91,0.335],[0.925,0.345],[0.94,0.34],[0.926,0.25],[0.957,0.309],[0.945,0.289],[0.933,0.276],[0.882,0.215],[0.845,0.182],[0.814,0.161],[0.738,0.141],[0.713,0.12],[0.528,0.076],[0.37,0.933],[0.399,0.933],[0.412,0.939],[0.408,0.913],[0.402,0.896],[0.419,0.9],[0.436,0.901]];
const cLightPts = [[0.465,1.0],[0.893,0.51],[0.932,0.488],[0.94,0.484],[0.86,0.467],[0.857,0.445]];
const cMidPts = [[0.45,0.878],[0.475,0.85],[0.48,0.84],[0.49,0.845],[0.488,0.83],[0.497,0.825],[0.419,0.987],[0.417,0.944],[0.74,0.55],[0.76,0.545],[0.775,0.54],[0.79,0.55],[0.78,0.525],[0.80,0.53],[0.81,0.51],[0.82,0.52],[0.808,0.493],[0.824,0.532],[0.827,0.549],[0.881,0.488],[0.845,0.5]];
const cDarkPts = [[0.477,0.937],[0.491,0.878],[0.549,0.767],[0.541,0.756],[0.537,0.739],[0.557,0.685],[0.566,0.666],[0.64,0.61],[0.65,0.62],[0.59,0.6],[0.605,0.58],[0.62,0.56]];
const cBlackPts = [[0.561,0.922],[0.53,0.864],[0.515,0.878],[0.552,0.833],[0.588,0.818],[0.523,0.793],[0.552,0.785],[0.562,0.79],[0.596,0.785],[0.585,0.765],[0.6,0.76],[0.615,0.718],[0.654,0.744],[0.669,0.722],[0.678,0.705],[0.687,0.692],[0.666,0.697],[0.632,0.73],[0.628,0.72],[0.636,0.69],[0.648,0.695],[0.657,0.68],[0.645,0.67],[0.636,0.653],[0.654,0.653],[0.681,0.667],[0.743,0.683],[0.734,0.64],[0.728,0.61],[0.746,0.59],[0.672,0.601],[0.681,0.575],[0.696,0.601],[0.708,0.603],[0.60,0.67],[0.61,0.65],[0.62,0.635]];
const cFrontDash1 = [[0.465,1.0],[0.561,0.922]];
const cFrontSolid = [[0.561,0.922],[0.575,0.89],[0.597,0.827],[0.633,0.77],[0.669,0.718],[0.696,0.701],[0.749,0.68]];
const cFrontDash2 = [[0.749,0.68],[0.764,0.666],[0.80,0.592],[0.833,0.545],[0.875,0.523],[0.929,0.493],[0.946,0.488],[0.961,0.462],[0.994,0.401]];

// ---------- build ----------
function fromRows(rows){ const out=[]; rows.forEach(r=>r[1].forEach(x=>out.push([x,r[0]]))); return out; }
const panels = [
  {grid:{left:52,top:12,width:613,height:421}, max:1.05},
  {grid:{left:52,top:533,width:613,height:421}, max:1.01},
  {grid:{left:52,top:1060,width:613,height:423}, max:1.1}
];
function fmt(v){ for(let i=0;i<tickValues.length;i++){ if(Math.abs(v-tickValues[i])<1e-6) return tickLabels[i]; } return ''; }
const AX = '#555';
const xAxes=[], yAxes=[], grids=[];
panels.forEach((p,i)=>{
  grids.push(p.grid);
  const base = {type:'value', gridIndex:i, min:0, max:p.max, interval:0.2, splitLine:{show:false},
    axisLine:{show:true,onZero:false,lineStyle:{color:AX,width:1.2}},
    axisTick:{show:true,inside:true,length:4,lineStyle:{color:AX,width:1}}};
  xAxes.push(Object.assign({}, base, {position:'bottom', axisLabel:{show:true,margin:5,fontFamily:'DejaVu Sans',fontSize:10.5,color:'#333',formatter:fmt}}));
  xAxes.push(Object.assign({}, base, {position:'top', axisLabel:{show:false}}));
  yAxes.push(Object.assign({}, base, {position:'left', axisLabel:{show:true,margin:4,fontFamily:'DejaVu Sans',fontSize:10.5,color:'#333',formatter:fmt}}));
  yAxes.push(Object.assign({}, base, {position:'right', axisLabel:{show:false}}));
});
const styles = {
  open:{color:'#ffffff',borderColor:'#6e6e6e',borderWidth:1.1},
  light:{color:'#b8b8b8',borderColor:'#7a7a7a',borderWidth:1.1},
  mid:{color:'#808080',borderColor:'#555',borderWidth:1.1},
  dark:{color:'#444',borderColor:'#2a2a2a',borderWidth:1.1},
  black:{color:'#151515',borderColor:'#000',borderWidth:1}
};
function sc(panel, data, st){ return {type:'scatter', xAxisIndex:panel*2, yAxisIndex:panel*2, data, symbol:'circle', symbolSize:8.5, itemStyle:styles[st], animation:false, silent:true}; }
function ln(panel, data, dashed){ return {type:'line', xAxisIndex:panel*2, yAxisIndex:panel*2, data, symbol:'none', z:5, animation:false, silent:true,
  lineStyle:{color:'#c00000', width:2.6, type: dashed?[10,6]:'solid', cap:'butt'}}; }
const series = [
  sc(0,aOpen,'open'), sc(0,aLight,'light'), sc(0,aGray,'mid'), sc(0,aDark,'dark'), sc(0,aBlack,'black'),
  ln(0,aFrontSolid,false), ln(0,aFrontDash,true),
  sc(1,bOpen,'open'), sc(1,bOpenTop,'open'), sc(1,bMid,'mid'), sc(1,bDark,'dark'), sc(1,bBlack,'black'),
  ln(1,bFront,false),
  sc(2,fromRows(cOpenRows).concat(cOpenPts),'open'), sc(2,fromRows(cLightRows).concat(cLightPts),'light'),
  sc(2,fromRows(cMidRows).concat(cMidPts),'mid'), sc(2,fromRows(cDarkRows).concat(cDarkPts),'dark'),
  sc(2,fromRows(cBlackRows).concat(cBlackPts),'black'),
  ln(2,cFrontDash1,true), ln(2,cFrontSolid,false), ln(2,cFrontDash2,true)
];
const graphic = [];
const letterPos = [[73,52,52],[77,580,52],[75,1110,42]];
const yTitleY = [222,743,1272];
const xTitleY = [460,980,1510];
[0,1,2].forEach(i=>{
  graphic.push({type:'text', x:letterPos[i][0], y:letterPos[i][1], z:10, style:{text:panelLetters[i], font:letterPos[i][2]+'px "Open Sans"', fill:'#111', align:'left', verticalAlign:'middle'}});
  graphic.push({type:'text', x:19, y:yTitleY[i], rotation:Math.PI/2, z:10, style:{text:yTitle, font:'16px "Open Sans"', fill:'#111', align:'center', verticalAlign:'middle'}});
  graphic.push({type:'text', x:359, y:xTitleY[i], z:10, style:{text:xTitle, font:'16px "Open Sans"', fill:'#111', align:'center', verticalAlign:'middle'}});
});
const chart = echarts.init(document.getElementById('c'), null, {renderer:'canvas'});
chart.setOption({backgroundColor:'#fff', animation:false, grid:grids, xAxis:xAxes, yAxis:yAxes, series, graphic});
</script></body></html>
